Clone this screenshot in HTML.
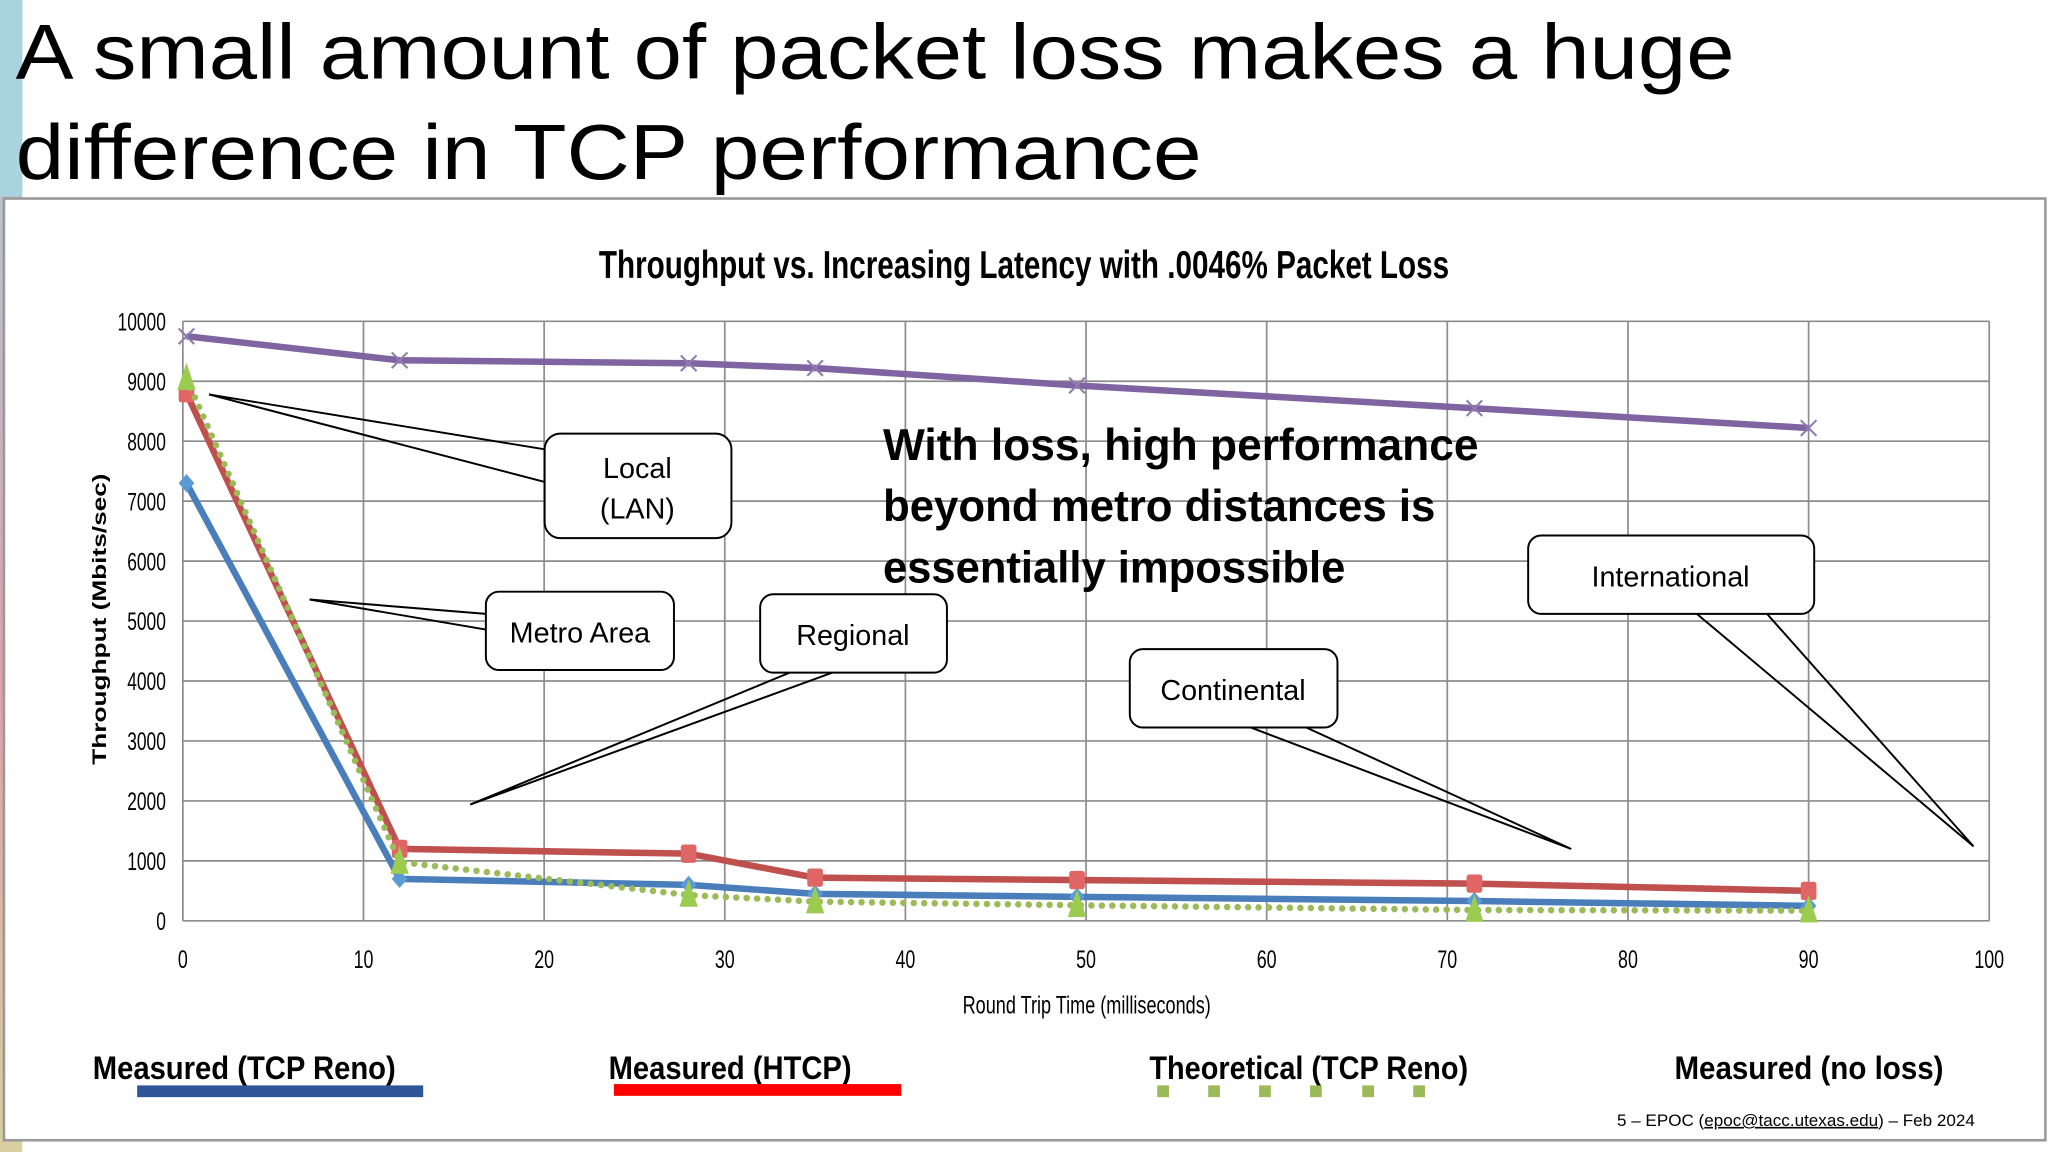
<!DOCTYPE html>
<html><head><meta charset="utf-8">
<style>
html,body{margin:0;padding:0;background:#fff;}
svg{display:block;}
.n{font-family:"Liberation Sans Narrow","Liberation Sans",sans-serif;}
.s{font-family:"Liberation Sans","DejaVu Sans",sans-serif;}
</style></head>
<body>
<svg id="c" width="2048" height="1152" viewBox="0 0 1568 882" xmlns="http://www.w3.org/2000/svg">
<defs><linearGradient id="lg" x1="0" y1="0" x2="0" y2="1"><stop offset="0" stop-color="#a9d3df"/><stop offset="0.35" stop-color="#c7b3c2"/><stop offset="0.6" stop-color="#e0a0a8"/><stop offset="1" stop-color="#d9d0a0"/></linearGradient></defs>
<rect x="0" y="0" width="1568" height="882" fill="#fff"/>
<rect x="0" y="0" width="17" height="882" fill="url(#lg)"/>
<rect x="0" y="0" width="17" height="150" fill="#a9d3df"/>
<text x="12" y="60" class="s" font-size="60" fill="#000" textLength="1316" lengthAdjust="spacingAndGlyphs">A small amount of packet loss makes a huge</text>
<text x="12" y="137" class="s" font-size="60" fill="#000" textLength="908" lengthAdjust="spacingAndGlyphs">difference in TCP performance</text>
<rect x="3" y="152" width="1563" height="721" fill="#fff" stroke="#9a9a9a" stroke-width="2"/>
<text x="784" y="213" text-anchor="middle" class="n" font-weight="bold" font-size="30" textLength="651" lengthAdjust="spacingAndGlyphs">Throughput vs. Increasing Latency with .0046% Packet Loss</text>
<g id="grid"></g><g id="series"></g>
<text transform="translate(81,474) rotate(-90)" text-anchor="middle" class="s" font-weight="bold" font-size="15" textLength="223" lengthAdjust="spacingAndGlyphs">Throughput (Mbits/sec)</text>
<text x="832" y="776" text-anchor="middle" class="n" font-size="19" textLength="190" lengthAdjust="spacingAndGlyphs">Round Trip Time (milliseconds)</text>

<g fill="#fff" stroke="#000" stroke-width="1.5">
<polyline points="417,344 160,302 417,369" fill="none"/>
<rect x="417" y="332" width="143" height="80" rx="12"/>
</g>
<text x="488" y="366" text-anchor="middle" class="s" font-size="22">Local</text>
<text x="488" y="397" text-anchor="middle" class="s" font-size="22">(LAN)</text>
<g fill="#fff" stroke="#000" stroke-width="1.5">
<polyline points="372,470 237,459 372,482" fill="none"/>
<rect x="372" y="453" width="144" height="60" rx="10"/>
</g>
<text x="444" y="492" text-anchor="middle" class="s" font-size="22">Metro Area</text>
<g fill="#fff" stroke="#000" stroke-width="1.5">
<polyline points="607,514 360,616 640,514" fill="none"/>
<rect x="582" y="455" width="143" height="60" rx="10"/>
</g>
<text x="653" y="494" text-anchor="middle" class="s" font-size="22">Regional</text>
<g fill="#fff" stroke="#000" stroke-width="1.5">
<polyline points="955,556 1203,650 998,556" fill="none"/>
<rect x="865" y="497" width="159" height="60" rx="10"/>
</g>
<text x="944" y="536" text-anchor="middle" class="s" font-size="22">Continental</text>
<g fill="#fff" stroke="#000" stroke-width="1.5">
<polyline points="1298,469 1511,648 1352,469" fill="none"/>
<rect x="1170" y="410" width="219" height="60" rx="10"/>
</g>
<text x="1279" y="449" text-anchor="middle" class="s" font-size="22">International</text>

<g class="s" font-weight="bold" font-size="34">
<text x="676" y="352" textLength="456" lengthAdjust="spacingAndGlyphs">With loss, high performance</text>
<text x="676" y="399" textLength="423" lengthAdjust="spacingAndGlyphs">beyond metro distances is</text>
<text x="676" y="446" textLength="354" lengthAdjust="spacingAndGlyphs">essentially impossible</text>
</g>

<g class="n" font-weight="bold" font-size="25">
<text x="71" y="826" textLength="232" lengthAdjust="spacingAndGlyphs">Measured (TCP Reno)</text>
<text x="466" y="826" textLength="186" lengthAdjust="spacingAndGlyphs">Measured (HTCP)</text>
<text x="880" y="826" textLength="244" lengthAdjust="spacingAndGlyphs">Theoretical (TCP Reno)</text>
<text x="1282" y="826" textLength="206" lengthAdjust="spacingAndGlyphs">Measured (no loss)</text>
</g>
<rect x="105" y="831" width="219" height="9" fill="#2e5597"/>
<rect x="470" y="830" width="220" height="9" fill="#ff0000"/>
<g fill="#9bbb59">
<rect x="886" y="831" width="9" height="9"/><rect x="925" y="831" width="9" height="9"/><rect x="964" y="831" width="9" height="9"/><rect x="1003" y="831" width="9" height="9"/><rect x="1043" y="831" width="9" height="9"/><rect x="1082" y="831" width="9" height="9"/>
</g>
<text x="1238" y="862" class="s" font-size="12.5" textLength="274" lengthAdjust="spacingAndGlyphs">5 – EPOC (<tspan text-decoration="underline">epoc@tacc.utexas.edu</tspan>) – Feb 2024</text>
</svg>
<script>
const rtt = [0.2, 12, 28, 35, 49.5, 71.5, 90];
const noLoss = [9750, 9350, 9300, 9220, 8930, 8550, 8220];
const reno = [7300, 700, 600, 450, 400, 330, 250];
const htcp = [8800, 1200, 1120, 720, 680, 620, 500];
const theory = [9050, 980, 430, 320, 260, 180, 170];
const yTicks = [0,1000,2000,3000,4000,5000,6000,7000,8000,9000,10000];
const xTicks = [0,10,20,30,40,50,60,70,80,90,100];

const NS="http://www.w3.org/2000/svg";
const X0=140,X1=1523,Y0=705,Y1=246;
function sx(v){return X0+(v/100)*(X1-X0);}
function sy(v){return Y0-(v/10000)*(Y0-Y1);}
function mk(tag,attrs,parent){const e=document.createElementNS(NS,tag);for(const k in attrs)e.setAttribute(k,attrs[k]);parent.appendChild(e);return e;}
const grid=document.getElementById('grid');
yTicks.forEach(t=>{
  const l=mk('line',{x1:X0,x2:X1,y1:sy(t),y2:sy(t),stroke:'#8c8c8c','stroke-width':1.3},grid);
  
  
  const tx=mk('text',{x:127,y:sy(t)+7,'text-anchor':'end','class':'n','font-size':19,textLength:String(t).length*7.4,lengthAdjust:'spacingAndGlyphs'},grid);
  tx.textContent=t;
  
  
});
xTicks.forEach(t=>{
  const l=mk('line',{x1:sx(t),x2:sx(t),y1:Y1,y2:Y0,stroke:'#8c8c8c','stroke-width':1.3},grid);
  
  
  const tx=mk('text',{x:sx(t),y:741,'text-anchor':'middle','class':'n','font-size':19,textLength:String(t).length*7.6,lengthAdjust:'spacingAndGlyphs'},grid);
  tx.textContent=t;
  
  
});
const sg=document.getElementById('series');
function series(vals,color,name,dash,marker,mcolor){
  const pts=rtt.map((x,i)=>sx(x)+','+sy(vals[i])).join(' ');
  const a={points:pts,fill:'none',stroke:color,'stroke-width':5,'stroke-linejoin':'round'};
  if(dash){a['stroke-dasharray']='0 8';a['stroke-linecap']='round';}
  const p=mk('polyline',a,sg);
  
  
  rtt.forEach((x,i)=>{
    const cx=sx(x),cy=sy(vals[i]);let m;
    if(marker==='x'){m=mk('path',{d:`M${cx-6},${cy-6}L${cx+6},${cy+6}M${cx-6},${cy+6}L${cx+6},${cy-6}`,stroke:mcolor,'stroke-width':1.6,fill:'none'},sg);}
    else if(marker==='d'){m=mk('path',{d:`M${cx},${cy-7}L${cx+6},${cy}L${cx},${cy+7}L${cx-6},${cy}Z`,fill:mcolor},sg);}
    else if(marker==='s'){m=mk('rect',{x:cx-6,y:cy-7,width:12,height:14,rx:2,fill:mcolor},sg);}
    else {m=mk('path',{d:`M${cx},${cy-12}L${cx+7},${cy+9}L${cx-7},${cy+9}Z`,fill:mcolor},sg);}
    
    
  });
}
series(noLoss,'#8064a2','no-loss',false,'x','#8e7cb0');
series(reno,'#4a7ebb','reno',false,'d','#5b9bd5');
series(htcp,'#c0504d','htcp',false,'s','#e06666');
series(theory,'#9bbb59','theoretical',true,'t','#9bcc4f');
</script>
</body></html>
